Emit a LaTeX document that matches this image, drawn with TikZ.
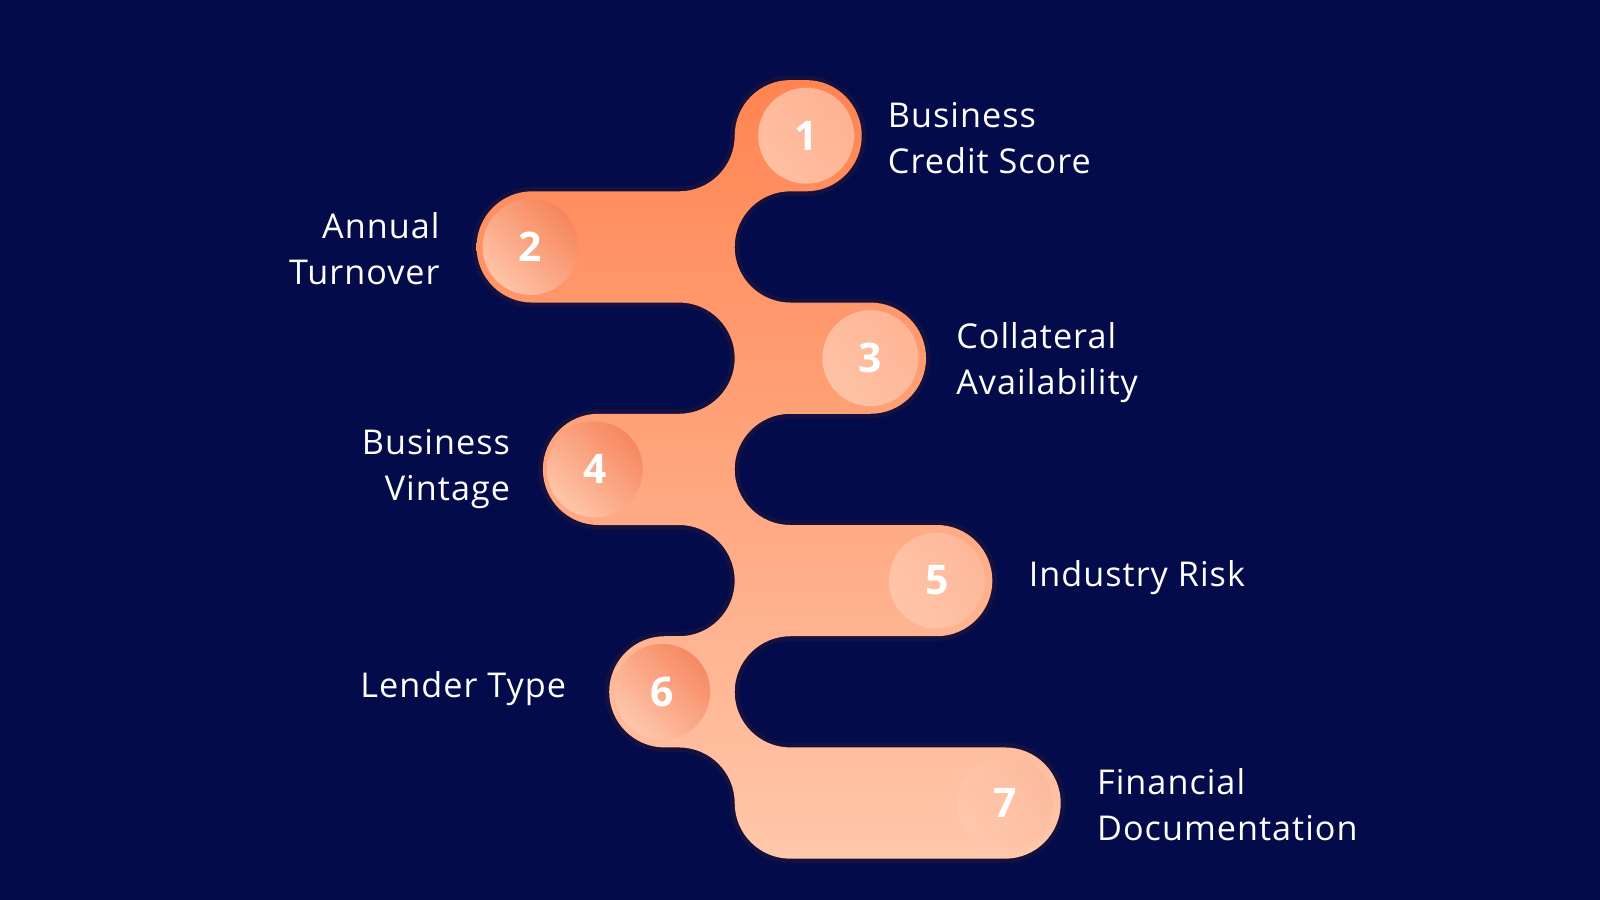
\documentclass[tikz,border=0pt]{standalone}
\usepackage{fontspec}
\setmainfont{Open Sans}[LetterSpace=3]
\definecolor{bg}{HTML}{030B4B}
\definecolor{rim}{HTML}{14103F}
\definecolor{orA}{HTML}{FF8452}
\definecolor{orB}{HTML}{FFC7AA}
\definecolor{cdark}{HTML}{F2683A}
\definecolor{clight}{HTML}{FFC9AE}
\begin{document}
\begin{tikzpicture}[x=1pt,y=-1pt,
  num/.style={text=white,font=\fontsize{40}{40}\selectfont\bfseries,inner sep=0pt},
  lblR/.style={text=white,font=\fontsize{33.5}{45}\selectfont,align=left,anchor=west,inner sep=0pt},
  lblL/.style={text=white,font=\fontsize{33.5}{45}\selectfont,align=right,anchor=east,inner sep=0pt}]
\fill[bg] (0,0) rectangle (1568,882);
\useasboundingbox (0,0) rectangle (1568,882);
\def\blob{(774.5,78.5) -- (790,78.5) arc[start angle=270,end angle=450,radius=54.5]
 -- (774.5,187.5) arc[start angle=270,end angle=90,radius=54.5]
 -- (853,296.5) arc[start angle=270,end angle=450,radius=54.5]
 -- (774.5,405.5) arc[start angle=270,end angle=90,radius=54.5]
 -- (918,514.5) arc[start angle=270,end angle=450,radius=54.5]
 -- (774.5,623.5) arc[start angle=270,end angle=90,radius=54.5]
 -- (985,732.5) arc[start angle=270,end angle=450,radius=54.5]
 -- (774.5,841.5) arc[start angle=90,end angle=180,radius=54.5]
 arc[start angle=360,end angle=270,radius=54.5]
 -- (651.5,732.5) arc[start angle=90,end angle=270,radius=54.5]
 -- (665.5,623.5) arc[start angle=90,end angle=-90,radius=54.5]
 -- (586.5,514.5) arc[start angle=90,end angle=270,radius=54.5]
 -- (665.5,405.5) arc[start angle=90,end angle=-90,radius=54.5]
 -- (521.5,296.5) arc[start angle=90,end angle=270,radius=54.5]
 -- (665.5,187.5) arc[start angle=90,end angle=0,radius=54.5]
 arc[start angle=180,end angle=270,radius=54.5] -- cycle}
\draw[rim,line width=9,line join=round] \blob;
\shade[top color=orA,bottom color=orB] \blob;
\foreach \n/\x/\y in {2/520/242,4/583/460,6/649/678}{
  \shade[left color=cdark!70!clight,right color=clight,shading angle=-45,opacity=0.9] (\x,\y) circle[radius=47];
  \node[num] (n\n) at (\x,\y) {\n};
}
\foreach \n/\x/\y in {1/790/133,3/853/351,5/918/569,7/985/787}{
  \shade[left color=clight!85!cdark,right color=clight,shading angle=-60,opacity=0.85] (\x,\y) circle[radius=47];
  \node[num] (n\n) at (\x,\y) {\n};
}
\node[lblR] (t1) at (870,135) {Business\\Credit Score};
\node[lblL] (t2) at (431,244) {Annual\\Turnover};
\node[lblR] (t3) at (937,355) {Collateral\\Availability};
\node[lblL] (t4) at (500,460) {Business\\Vintage};
\node[lblR] (t5) at (1008,566) {Industry Risk};
\node[lblL] (t6) at (555,675) {Lender Type};
\node[lblR] (t7) at (1075,789) {Financial\\Documentation};
\end{tikzpicture}
\end{document}
